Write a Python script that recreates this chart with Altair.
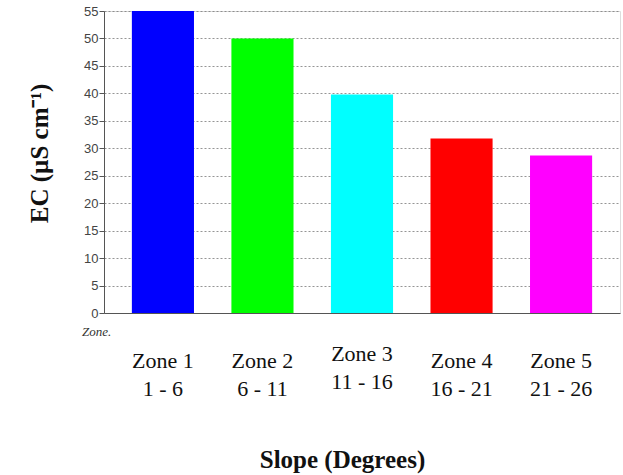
import altair as alt
import pandas as pd

zones = ["Zone 1", "Zone 2", "Zone 3", "Zone 4", "Zone 5"]
slope_ranges = ["1 - 6", "6 - 11", "11 - 16", "16 - 21", "21 - 26"]
ec_values = [55, 50, 39.8, 31.8, 28.7]
colors = ["#0000ff", "#00ff00", "#00ffff", "#ff0000", "#ff00ff"]
y_ticks = list(range(0, 56, 5))
corner_note = ["Zone."]

df = pd.DataFrame({
    "label": [f"{z}|{r}" for z, r in zip(zones, slope_ranges)],
    "zone": zones,
    "ec": ec_values,
})

bars = alt.Chart(df).mark_bar().encode(
    x=alt.X(
        "label:N",
        sort=None,
        scale=alt.Scale(paddingInner=0.376, paddingOuter=0.28),
        axis=alt.Axis(
            title="Slope (Degrees)",
            labelExpr="split(datum.label, '|')",
            labelAngle=0,
            ticks=False,
            tickSize=0,
            labelFont="Liberation Serif",
            labelFontSize=22,
            labelColor="#111111",
            labelLineHeight=28,
            labelBaseline="alphabetic",
            labelPadding={"condition": {"test": "indexof(datum.label, 'Zone 3') == 0", "value": 47}, "value": 54},
            labelLimit=0,
            titleFont="Liberation Serif",
            titleFontSize=25,
            titleFontWeight="bold",
            titleColor="#111111",
            titleX=238,
            titleY=154,
            titleBaseline="alphabetic",
            domainColor="#555555",
        ),
    ),
    y=alt.Y(
        "ec:Q",
        scale=alt.Scale(domain=[0, 55], nice=False),
        axis=alt.Axis(
            values=y_ticks,
            title="EC (µS cm⁻¹)",
            labelFont="Liberation Sans",
            labelFontSize=13,
            labelColor="#444444",
            labelPadding=1,
            tickSize=5,
            tickColor="#555555",
            domainColor="#555555",
            gridColor="#7a7a7a",
            gridDash=[2, 2],
            gridOpacity=0.8,
            titleFont="Liberation Serif",
            titleFontSize=25,
            titleFontWeight="bold",
            titleColor="#111111",
            titleX=-57,
            titleY=142,
            titleBaseline="alphabetic",
        ),
    ),
    color=alt.Color("zone:N", scale=alt.Scale(domain=zones, range=colors), legend=None),
)

note = alt.Chart(pd.DataFrame({"t": corner_note})).mark_text(
    font="Liberation Serif", fontStyle="italic", fontSize=13, align="left",
    baseline="alphabetic", color="#333333",
).encode(x=alt.value(-22), y=alt.value(325), text="t:N")

chart = alt.layer(bars, note).properties(
    width=516,
    height=302,
    autosize=alt.AutoSizeParams(type="none"),
    padding={"left": 104, "top": 11, "right": 3, "bottom": 162},
).configure_view(fill="#e0e0e0", stroke="#808080").configure(background="white")

chart.save("out.html", embed_options={"renderer": "svg", "actions": False})
